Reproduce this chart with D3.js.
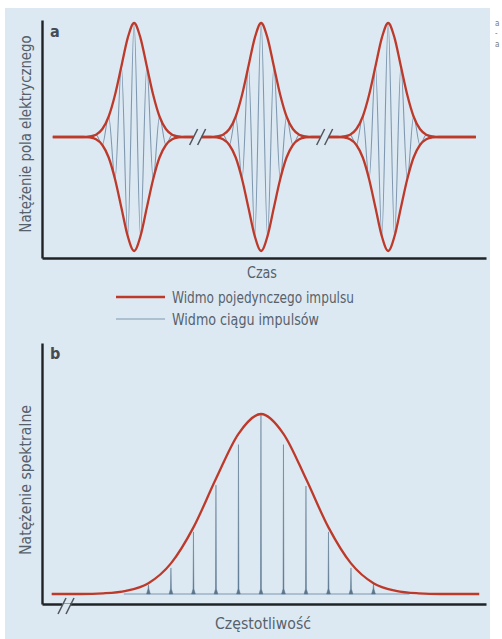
<!DOCTYPE html>
<html>
<head>
<meta charset="utf-8">
<script src="https://cdn.jsdelivr.net/npm/d3@7"></script>
<style>
  body { margin: 0; background: #ffffff; }
  svg text { font-family: 'DejaVu Sans Condensed', 'Liberation Sans Narrow', 'Roboto', sans-serif; }
</style>
</head>
<body>
<div id="chart"></div>
<script>
// ---- data ----
// panel a: three identical pulses, time in arbitrary units
var pulseCenters = [10, 20, 30];
var traceStart = 3.6, traceEnd = 36.9;
var breakTimes = [15, 25];
// envelope of one pulse: offset from centre -> relative field
var envOffsets = [0, 0.5, 1, 1.5, 2, 2.5, 3, 3.5, 4];
var envValues  = [1.0, 0.87, 0.62, 0.37, 0.18, 0.07, 0.02, 0.004, 0];
// carrier extremes inside one pulse
var carrierOffsets = [-3, -2.5, -2, -1.5, -1, -0.5, 0, 0.5, 1, 1.5, 2, 2.5, 3];
var carrierValues  = [0.02, -0.07, 0.18, -0.37, 0.62, -0.87, 1.0, -0.87, 0.62, -0.37, 0.18, -0.07, 0.02];

// panel b: comb of modes (n = mode index from the centre)
var modeIndex  = [-5, -4, -3, -2, -1, 0, 1, 2, 3, 4, 5];
var modeValues = [0.05, 0.145, 0.345, 0.605, 0.83, 1.0, 0.83, 0.60, 0.345, 0.145, 0.055];
var specOffsets = [-9.3, -8, -7, -6, -5, -4, -3, -2, -1, 0, 1, 2, 3, 4, 5, 6, 7, 8, 9.7];
var specValues  = [0, 0, 0.004, 0.018, 0.06, 0.17, 0.37, 0.64, 0.89, 1.0, 0.89, 0.64, 0.37, 0.17, 0.06, 0.018, 0.004, 0, 0];
var combStart = -6.1, combEnd = 6.6;

var labelA = 'a', labelB = 'b';
var yTitleA = 'Natężenie pola elektrycznego';
var yTitleB = 'Natężenie spektralne';
var xTitleA = 'Czas';
var xTitleB = 'Częstotliwość';
var legendLabels = ['Widmo pojedynczego impulsu', 'Widmo ciągu impulsów'];

// ---- drawing ----
var W = 502, H = 639;
var bg = '#dde9f2', red = '#bd3a2b', blue = '#7f98b0', spikeCol = '#5a768f';
var ink = '#202326', textCol = '#56616c';

var svg = d3.select('#chart').append('svg').attr('width', W).attr('height', H);
svg.append('rect').attr('x', 5).attr('y', 8).attr('width', 485).attr('height', H - 8).attr('fill', bg);

// clipped words of the neighbouring page on the right
[26, 36, 47].forEach(function(y, i) {
	svg.append('text').attr('x', 495).attr('y', y).attr('font-size', 8).attr('fill', '#7a7a7a')
		.text(i == 1 ? '-' : 'a');
});

// text squeezed to the measured width, the original face is a narrow gothic
function label(x, y, txt, len, anchor, rot) {
	var t = svg.append('text').attr('font-size', 16.5).attr('fill', textCol)
		.attr('text-anchor', anchor || 'start')
		.attr('textLength', len).attr('lengthAdjust', 'spacingAndGlyphs').text(txt);
	if (rot) t.attr('transform', 'translate(' + x + ',' + y + ') rotate(-90)');
	else t.attr('x', x).attr('y', y);
	return t;
}

function drawAxes(g, x, y0, yTop) {
	var ax = d3.axisBottom(x).ticks(0).tickSizeOuter(0);
	g.append('g').attr('transform', 'translate(0,' + y0 + ')').call(ax)
		.select('.domain').attr('stroke', ink).attr('stroke-width', 2.4);
	var yl = d3.scaleLinear().domain([0, 1]).range([y0, yTop]);
	var ay = d3.axisLeft(yl).ticks(0).tickSizeOuter(0);
	g.append('g').attr('transform', 'translate(' + x.range()[0] + ',0)').call(ay)
		.select('.domain').attr('stroke', ink).attr('stroke-width', 2.4);
}

function slashes(g, cx, cy, gapH) {
	g.append('rect').attr('x', cx - 4).attr('y', cy - gapH / 2).attr('width', 8).attr('height', gapH).attr('fill', bg);
	[-4, 4].forEach(function(d) {
		g.append('line').attr('x1', cx + d - 4).attr('y1', cy + 8).attr('x2', cx + d + 4).attr('y2', cy - 8)
			.attr('stroke', '#50555c').attr('stroke-width', 1.5);
	});
}

// ---------- panel a ----------
var gA = svg.append('g');
var xA = d3.scaleLinear().domain([2.75, 37.7]).range([42, 486]);
var yA = d3.scaleLinear().domain([-1, 1]).range([251, 23]);

// envelope points for the whole trace (sign = +1 upper, -1 lower)
function envelopePoints(sign) {
	var pts = [[traceStart, 0]];
	pulseCenters.forEach(function(c) {
		for (var i = envOffsets.length - 1; i > 0; i--) pts.push([c - envOffsets[i], sign * envValues[i]]);
		for (var j = 0; j < envOffsets.length; j++) pts.push([c + envOffsets[j], sign * envValues[j]]);
	});
	pts.push([traceEnd, 0]);
	return pts;
}
function carrierPoints() {
	var pts = [[traceStart, 0]];
	pulseCenters.forEach(function(c) {
		pts.push([c - 4, 0]);
		carrierOffsets.forEach(function(o, i) { pts.push([c + o, carrierValues[i]]); });
		pts.push([c + 4, 0]);
	});
	pts.push([traceEnd, 0]);
	return pts;
}

var lineA = d3.line().x(function(d) { return xA(d[0]); }).y(function(d) { return yA(d[1]); })
	.curve(d3.curveMonotoneX);

gA.append('path').attr('d', lineA(carrierPoints())).attr('fill', 'none')
	.attr('stroke', blue).attr('stroke-width', 1.1);
[1, -1].forEach(function(s) {
	gA.append('path').attr('d', lineA(envelopePoints(s))).attr('fill', 'none')
		.attr('stroke', red).attr('stroke-width', 2.3);
});
breakTimes.forEach(function(t) { slashes(gA, xA(t), yA(0), 6); });

drawAxes(gA, xA, 258, 20);
gA.append('text').attr('x', 50).attr('y', 37).attr('font-size', 16).attr('font-weight', 'bold')
	.attr('fill', '#464b52').text(labelA);
label(31, 134, yTitleA, 197, 'middle', true);
label(262, 278, xTitleA, 30, 'middle');

// ---------- legend ----------
var legCols = [red, blue], legW = [2.3, 1.1], legY = [297, 319], legLen = [182, 147];
legendLabels.forEach(function(l, i) {
	svg.append('line').attr('x1', 116).attr('x2', 165).attr('y1', legY[i]).attr('y2', legY[i])
		.attr('stroke', legCols[i]).attr('stroke-width', legW[i]);
	label(172, legY[i] + 6, l, legLen[i]);
});

// ---------- panel b ----------
var gB = svg.append('g');
var xB = d3.scaleLinear().domain([-9.73, 10]).range([42, 486]);
var yB = d3.scaleLinear().domain([0, 1]).range([594, 414]);

// thin baseline of the comb
gB.append('line').attr('x1', xB(combStart)).attr('x2', xB(combEnd))
	.attr('y1', yB(0)).attr('y2', yB(0)).attr('stroke', blue).attr('stroke-width', 1.2);

// the modes, drawn as narrow spikes with a small foot
gB.selectAll('path.mode').data(modeIndex).enter().append('path').attr('class', 'mode')
	.attr('d', function(n, i) {
		var x = xB(n), b = yB(0), t = yB(modeValues[i]);
		var foot = Math.min(5, b - t);
		return 'M' + (x - 1.9) + ',' + b + 'L' + (x - 0.45) + ',' + (b - foot) + 'L' + x + ',' + t +
			'L' + (x + 0.45) + ',' + (b - foot) + 'L' + (x + 1.9) + ',' + b + 'Z';
	})
	.attr('fill', spikeCol).attr('stroke', spikeCol).attr('stroke-width', 0.5);

var specPts = specOffsets.map(function(o, i) { return [o, specValues[i]]; });
var lineB = d3.line().x(function(d) { return xB(d[0]); }).y(function(d) { return yB(d[1]); })
	.curve(d3.curveMonotoneX);
gB.append('path').attr('d', lineB(specPts)).attr('fill', 'none')
	.attr('stroke', red).attr('stroke-width', 2.3);

drawAxes(gB, xB, 604, 343);
slashes(gB, 66, 606, 5);
gB.append('text').attr('x', 50).attr('y', 359).attr('font-size', 16).attr('font-weight', 'bold')
	.attr('fill', '#464b52').text(labelB);
label(31, 480, yTitleB, 150, 'middle', true);
label(263, 629, xTitleB, 96, 'middle');
</script>
</body>
</html>
